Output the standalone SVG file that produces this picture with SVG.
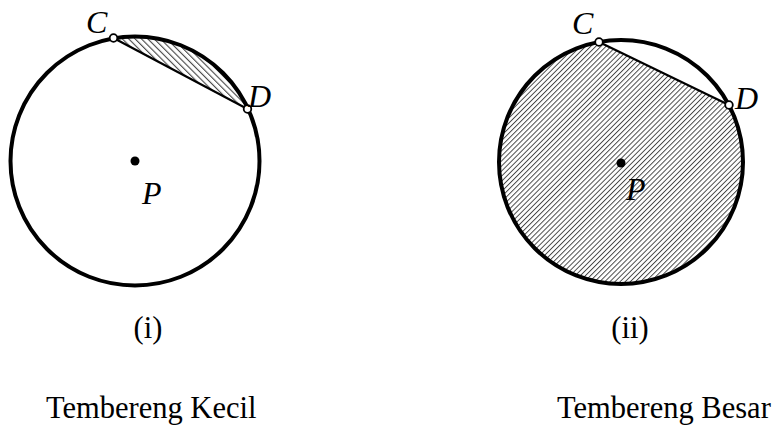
<svg xmlns="http://www.w3.org/2000/svg" width="779" height="434" viewBox="0 0 779 434">
<defs>
<pattern id="hatchL" patternUnits="userSpaceOnUse" width="4.5" height="4.5" patternTransform="rotate(-45)">
<rect width="4.5" height="4.5" fill="#ffffff"/>
<line x1="0" y1="0" x2="0" y2="4.5" stroke="#444" stroke-width="2.2"/>
</pattern>
<pattern id="hatchR" patternUnits="userSpaceOnUse" width="3.6" height="3.6" patternTransform="rotate(45)">
<rect width="3.6" height="3.6" fill="#ffffff"/>
<line x1="0" y1="0" x2="0" y2="3.6" stroke="#444" stroke-width="1.9"/>
</pattern>
</defs>
<style>
.circ{fill:none;stroke:#000;stroke-width:4}
.chord{stroke:#000;stroke-width:2.2;fill:none}
.pt{fill:#fff;stroke:#000;stroke-width:1.8}
.ctr{fill:#000}
.lbl{font-family:"Liberation Serif","Times New Roman",serif;font-style:italic;font-size:32px;fill:#000}
.cap{font-family:"Liberation Serif","Times New Roman",serif;font-size:30.5px;fill:#000}
</style>
<g id="fig1">
<path d="M113.5,38 A124.5,124.5 0 0 1 247.5,109 Z" fill="url(#hatchL)" stroke="none"/>
<circle class="circ" cx="135" cy="161" r="124.5"/>
<line class="chord" x1="113.5" y1="38" x2="247.5" y2="109"/>
<circle class="pt" cx="113.5" cy="38" r="3.8"/>
<circle class="pt" cx="247.5" cy="109" r="3.8"/>
<circle class="ctr" cx="135" cy="161" r="4.5"/>
<text class="lbl" x="86" y="33">C</text>
<text class="lbl" x="248" y="107">D</text>
<text class="lbl" x="142" y="204">P</text>
<text class="cap" x="148" y="338" text-anchor="middle">(i)</text>
<text class="cap" x="46" y="418">Tembereng Kecil</text>
</g>
<g id="fig2">
<path d="M729,105 A122,122 0 1 1 599,42 Z" fill="url(#hatchR)" stroke="none"/>
<circle class="circ" cx="621" cy="162" r="122"/>
<line class="chord" x1="599" y1="42" x2="729" y2="105"/>
<circle class="pt" cx="599" cy="42" r="3.8"/>
<circle class="pt" cx="729" cy="105" r="3.8"/>
<circle class="ctr" cx="621" cy="163" r="4.5"/>
<text class="lbl" x="572" y="34">C</text>
<text class="lbl" x="735" y="109">D</text>
<text class="lbl" x="626" y="200">P</text>
<text class="cap" x="630" y="338" text-anchor="middle">(ii)</text>
<text class="cap" x="557" y="418">Tembereng Besar</text>
</g>
</svg>
